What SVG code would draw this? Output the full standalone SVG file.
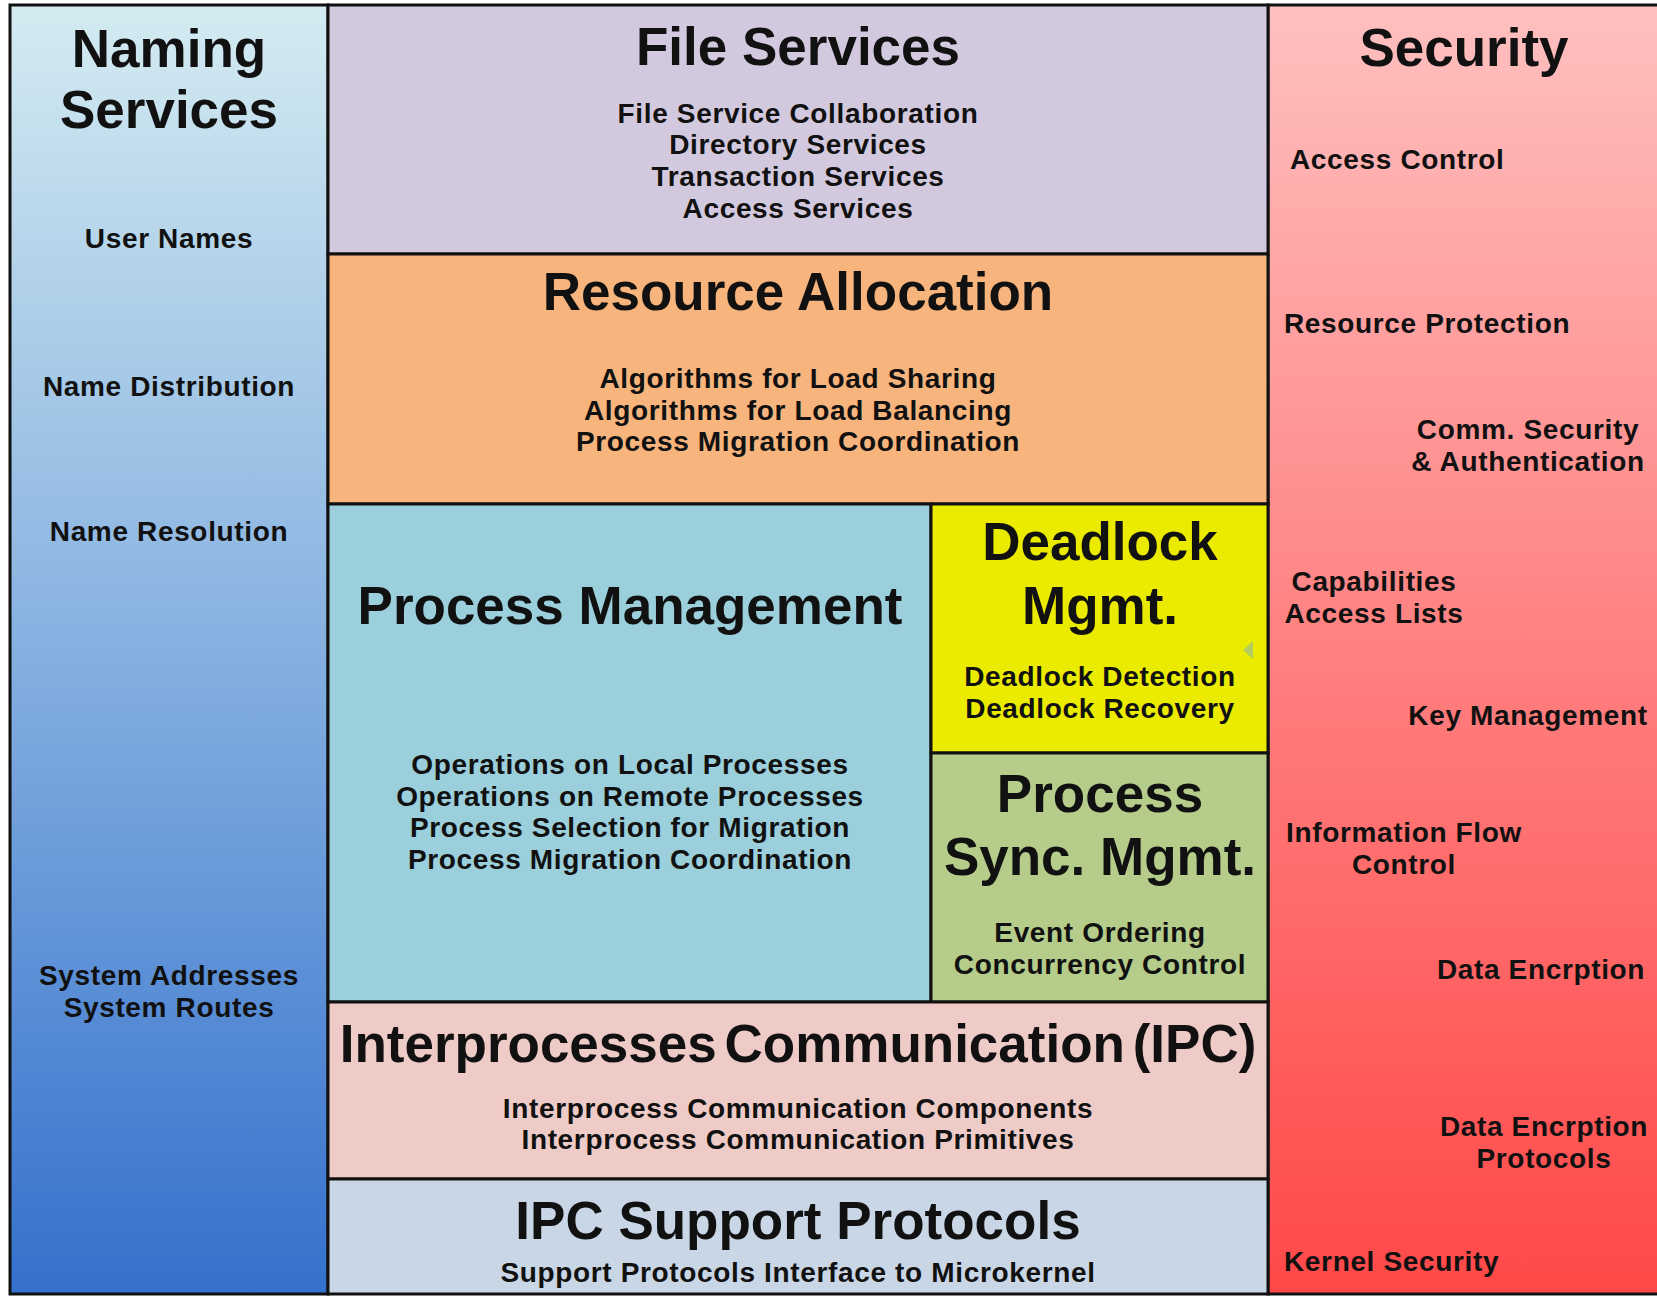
<svg xmlns="http://www.w3.org/2000/svg" width="1657" height="1296" viewBox="0 0 1657 1296">
<defs>
<linearGradient id="gNaming" x1="0" y1="0" x2="0" y2="1">
<stop offset="0" stop-color="#D4EBF1"/>
<stop offset="0.45" stop-color="#8DB6E2"/>
<stop offset="1" stop-color="#3470CC"/>
</linearGradient>
<linearGradient id="gSec" x1="0" y1="0" x2="0" y2="1">
<stop offset="0" stop-color="#FFC0C0"/>
<stop offset="0.5" stop-color="#FF8080"/>
<stop offset="1" stop-color="#FF4848"/>
</linearGradient>
<style>
.box{stroke:#111;stroke-width:3}
text{font-family:"Liberation Sans",Arial,Helvetica,sans-serif;font-weight:bold;fill:#111}
.t{font-size:53px;text-anchor:middle}
.s{font-size:28px;text-anchor:middle;letter-spacing:0.65px}
.l{font-size:28px;text-anchor:start;letter-spacing:0.65px}
</style>
</defs>
<rect width="1657" height="1296" fill="#ffffff"/>
<g id="naming-services">
<rect class="box" x="10" y="5" width="318" height="1289" fill="url(#gNaming)"/>
<text class="t" x="169" y="67">Naming</text>
<text class="t" x="169" y="128">Services</text>
<text class="s" x="169" y="248">User Names</text>
<text class="s" x="169" y="396">Name Distribution</text>
<text class="s" x="169" y="541">Name Resolution</text>
<text class="s" x="169" y="985">System Addresses</text>
<text class="s" x="169" y="1017">System Routes</text>
</g>
<g id="security">
<rect class="box" x="1268" y="5" width="395" height="1289" fill="url(#gSec)"/>
<text class="t" x="1464" y="66">Security</text>
<text class="l" x="1290" y="169">Access Control</text>
<text class="l" x="1284" y="333">Resource Protection</text>
<text class="s" x="1528" y="439">Comm. Security</text>
<text class="s" x="1528" y="471">&amp; Authentication</text>
<text class="s" x="1374" y="591">Capabilities</text>
<text class="s" x="1374" y="623">Access Lists</text>
<text class="s" x="1528" y="725">Key Management</text>
<text class="s" x="1404" y="842">Information Flow</text>
<text class="s" x="1404" y="874">Control</text>
<text class="s" x="1541" y="979">Data Encrption</text>
<text class="s" x="1544" y="1136">Data Encrption</text>
<text class="s" x="1544" y="1168">Protocols</text>
<text class="l" x="1284" y="1271">Kernel Security</text>
</g>
<g id="file-services">
<rect class="box" x="328" y="5" width="940" height="249" fill="#D3C9DF"/>
<text class="t" x="798" y="65">File Services</text>
<text class="s" x="798" y="123">File Service Collaboration</text>
<text class="s" x="798" y="154">Directory Services</text>
<text class="s" x="798" y="186">Transaction Services</text>
<text class="s" x="798" y="218">Access Services</text>
</g>
<g id="resource-allocation">
<rect class="box" x="328" y="254" width="940" height="250" fill="#F7B47D"/>
<text class="t" x="798" y="310">Resource Allocation</text>
<text class="s" x="798" y="388">Algorithms for Load Sharing</text>
<text class="s" x="798" y="420">Algorithms for Load Balancing</text>
<text class="s" x="798" y="451">Process Migration Coordination</text>
</g>
<g id="process-management">
<rect class="box" x="328" y="504" width="603" height="498" fill="#9BCFDC"/>
<text class="t" x="630" y="624">Process Management</text>
<text class="s" x="630" y="774">Operations on Local Processes</text>
<text class="s" x="630" y="806">Operations on Remote Processes</text>
<text class="s" x="630" y="837">Process Selection for Migration</text>
<text class="s" x="630" y="869">Process Migration Coordination</text>
</g>
<g id="deadlock-mgmt">
<rect class="box" x="931" y="504" width="337" height="249" fill="#EBEB00"/>
<text class="t" x="1100" y="560">Deadlock</text>
<text class="t" x="1100" y="624">Mgmt.</text>
<text class="s" x="1100" y="686">Deadlock Detection</text>
<text class="s" x="1100" y="718">Deadlock Recovery</text>
<polygon points="1243,650 1253,641 1253,659" fill="#A9C872" opacity="0.85"/>
</g>
<g id="process-sync-mgmt">
<rect class="box" x="931" y="753" width="337" height="249" fill="#B5CC8B"/>
<text class="t" x="1100" y="812">Process</text>
<text class="t" x="1100" y="875">Sync. Mgmt.</text>
<text class="s" x="1100" y="942">Event Ordering</text>
<text class="s" x="1100" y="974">Concurrency Control</text>
</g>
<g id="ipc">
<rect class="box" x="328" y="1002" width="940" height="177" fill="#EFCBC8"/>
<text class="t" x="798" y="1062" style="word-spacing:-7px">Interprocesses Communication (IPC)</text>
<text class="s" x="798" y="1118">Interprocess Communication Components</text>
<text class="s" x="798" y="1149">Interprocess Communication Primitives</text>
</g>
<g id="ipc-support-protocols">
<rect class="box" x="328" y="1179" width="940" height="115" fill="#C9D6E6"/>
<text class="t" x="798" y="1239">IPC Support Protocols</text>
<text class="s" x="798" y="1282">Support Protocols Interface to Microkernel</text>
</g>
<g id="connectors"></g>
</svg>
